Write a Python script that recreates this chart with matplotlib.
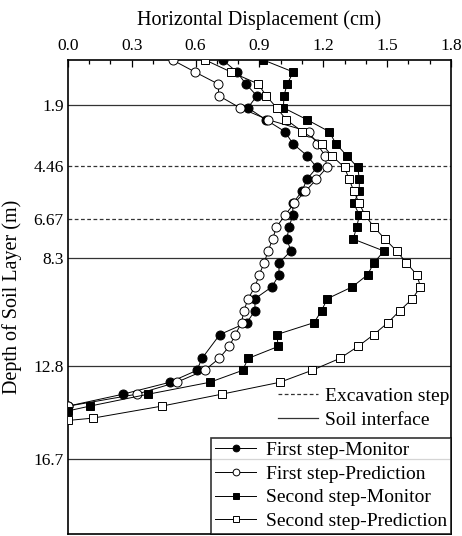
import matplotlib.pyplot as plt
import numpy as np
from matplotlib.ticker import MultipleLocator
from matplotlib.lines import Line2D

plt.rcParams['font.family'] = ['Liberation Serif', 'DejaVu Serif']

# readings taken off the chart: depth (m) and horizontal displacement (cm)
depth_first_mon = [0.0, 0.5, 1.0, 1.5, 2.0, 2.5, 3.0, 3.5, 4.0, 4.5, 5.0, 5.5, 6.0, 6.5, 7.0,
                   7.5, 8.0, 8.5, 9.0, 9.5, 10.0, 10.5, 11.0, 11.5, 12.5, 13.0, 13.5, 14.0, 14.5]
disp_first_mon = [0.728, 0.794, 0.836, 0.888, 0.846, 0.930, 1.020, 1.057, 1.123, 1.170, 1.123,
                  1.100, 1.057, 1.057, 1.039, 1.029, 1.048, 0.992, 0.992, 0.959, 0.879, 0.879,
                  0.841, 0.714, 0.630, 0.606, 0.479, 0.258, 0.0]

depth_first_pre = [0.0, 0.5, 1.0, 1.5, 2.0, 2.5, 3.0, 3.5, 4.0, 4.5, 5.0, 5.5, 6.0, 6.5, 7.0,
                   7.5, 8.0, 8.5, 9.0, 9.5, 10.0, 10.5, 11.0, 11.5, 12.0, 12.5, 13.0, 13.5,
                   14.0, 14.5]
disp_first_pre = [0.492, 0.597, 0.705, 0.710, 0.808, 0.940, 1.133, 1.170, 1.208, 1.217, 1.168,
                  1.116, 1.064, 1.020, 0.980, 0.962, 0.941, 0.922, 0.899, 0.879, 0.847, 0.827,
                  0.816, 0.787, 0.758, 0.711, 0.642, 0.511, 0.323, 0.0]

depth_second_mon = [0.0, 0.5, 1.0, 1.5, 2.0, 2.5, 3.0, 3.5, 4.0, 4.5, 5.0, 5.5, 6.0, 6.5, 7.0,
                    7.5, 8.0, 8.5, 9.0, 9.5, 10.0, 10.5, 11.0, 11.5, 12.0, 12.5, 13.0, 13.5,
                    14.0, 14.5, 14.7]
disp_second_mon = [0.919, 1.059, 1.031, 1.015, 1.013, 1.124, 1.228, 1.259, 1.310, 1.362, 1.370,
                   1.369, 1.343, 1.370, 1.357, 1.341, 1.485, 1.438, 1.408, 1.337, 1.219, 1.192,
                   1.157, 0.982, 0.988, 0.847, 0.821, 0.667, 0.377, 0.102, 0.0]

depth_second_pre = [0.0, 0.5, 1.0, 1.5, 2.0, 2.5, 3.0, 3.5, 4.0, 4.5, 5.0, 5.5, 6.0, 6.5, 7.0,
                    7.5, 8.0, 8.5, 9.0, 9.5, 10.0, 10.5, 11.0, 11.5, 12.0, 12.5, 13.0, 13.5,
                    14.0, 14.5, 15.0, 15.1]
disp_second_pre = [0.646, 0.766, 0.894, 0.932, 0.981, 1.026, 1.102, 1.192, 1.239, 1.300, 1.322,
                   1.344, 1.369, 1.396, 1.439, 1.490, 1.545, 1.591, 1.640, 1.657, 1.619, 1.560,
                   1.504, 1.438, 1.363, 1.278, 1.147, 0.996, 0.722, 0.440, 0.119, 0.0]

excavation_depths = [4.46, 6.67]
soil_depths = [1.9, 8.3, 12.8, 16.7]
depth_ticks = [1.9, 4.46, 6.67, 8.3, 12.8, 16.7]
depth_labels = ['1.9', '4.46', '6.67', '8.3', '12.8', '16.7']

fig = plt.figure(figsize=(4.62, 5.36), dpi=100)
ax = fig.add_axes([0.147, 0.004, 0.829, 0.884])

for d in excavation_depths:
    ax.axhline(d, color='#333333', lw=0.9, ls=(0, (3, 2)), zorder=1)
for d in soil_depths:
    ax.axhline(d, color='#333333', lw=0.9, zorder=1)

ax.plot(disp_first_mon, depth_first_mon, '-o', color='black', lw=0.7, ms=6.5,
        mfc='black', mec='black', mew=0.7, label='First step-Monitor', zorder=3)
ax.plot(disp_first_pre, depth_first_pre, '-o', color='black', lw=0.7, ms=6.5,
        mfc='white', mec='black', mew=0.7, label='First step-Prediction', zorder=4)
ax.plot(disp_second_mon, depth_second_mon, '-s', color='black', lw=0.7, ms=5.8,
        mfc='black', mec='black', mew=0.7, label='Second step-Monitor', zorder=5)
ax.plot(disp_second_pre, depth_second_pre, '-s', color='black', lw=0.7, ms=5.8,
        mfc='white', mec='black', mew=0.7, label='Second step-Prediction', zorder=6)

ax.set_xlim(0, 1.8)
ax.set_ylim(19.85, 0)
ax.xaxis.tick_top()
ax.xaxis.set_label_position('top')
ax.xaxis.set_major_locator(MultipleLocator(0.3))
ax.xaxis.set_minor_locator(MultipleLocator(0.1))
ax.xaxis.set_major_formatter(lambda v, p: f'{v:.1f}')
ax.tick_params(axis='x', which='major', direction='in', length=5, width=0.9,
               labelsize=12.5, pad=4)
ax.tick_params(axis='x', which='minor', direction='in', length=3, width=0.9)
ax.set_yticks(depth_ticks)
ax.set_yticklabels(depth_labels)
ax.tick_params(axis='y', length=0, labelsize=12.5, pad=3)
ax.set_xlabel('Horizontal Displacement (cm)', fontsize=14.5, labelpad=10)
ax.set_ylabel('Depth of Soil Layer (m)', fontsize=14.5)
ax.yaxis.set_label_coords(-0.12, 0.5)
for s in ax.spines.values():
    s.set_linewidth(1.2)

handles, labels = ax.get_legend_handles_labels()
leg2 = ax.legend(handles, labels, loc='lower right', bbox_to_anchor=(1, 0), fontsize=14,
                 frameon=True, fancybox=False, edgecolor='black', borderaxespad=0,
                 borderpad=0.2, handlelength=2.1, handletextpad=0.5, labelspacing=0.31,
                 markerscale=0.75)
leg2.get_frame().set_linewidth(1.2)
ax.add_artist(leg2)

ref_handles = [Line2D([], [], color='#333333', lw=0.9, ls=(0, (3, 2))),
               Line2D([], [], color='#333333', lw=0.9)]
ax.legend(ref_handles, ['Excavation step', 'Soil interface'], loc='upper left',
          bbox_to_anchor=(0.527, 0.325), fontsize=14, frameon=False, borderaxespad=0,
          handlelength=2.1, handletextpad=0.35, labelspacing=0.3)

fig.savefig('out.png', dpi=100)
